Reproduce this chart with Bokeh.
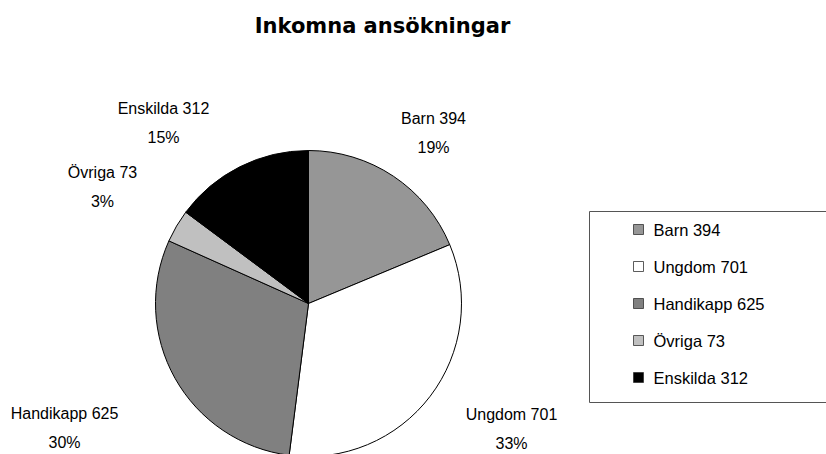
import numpy as np
from bokeh.plotting import figure
from bokeh.models import Range1d, ColumnDataSource
from bokeh.core.properties import value
from bokeh.embed import file_html
from bokeh.resources import INLINE

title = "Inkomna ansökningar"
categories = ["Barn", "Ungdom", "Handikapp", "Övriga", "Enskilda"]
counts = [394, 701, 625, 73, 312]
colors = ["#969696", "#ffffff", "#808080", "#c0c0c0", "#000000"]

W, H = 826, 454


def py(y):
    """convert page pixel y (down) to data y (up)"""
    return H - y


p = figure(width=W, height=H, output_backend="svg", toolbar_location=None,
           x_range=Range1d(0, W), y_range=Range1d(0, H),
           min_border=0, outline_line_color=None)
p.axis.visible = False
p.grid.visible = False
p.background_fill_color = "white"
p.border_fill_color = "white"

total = sum(counts)
frac = np.array(counts) / total
cum = np.concatenate([[0], np.cumsum(frac)])
start = np.pi / 2 - cum[:-1] * 2 * np.pi
end = np.pi / 2 - cum[1:] * 2 * np.pi

cx, cy, r = 308, py(303), 153
src = ColumnDataSource(dict(start=start, end=end, color=colors))
p.wedge(x=cx, y=cy, radius=r, start_angle="start", end_angle="end",
        direction="clock", fill_color="color", line_color="black",
        line_width=1, source=src)

# pie labels
label_pos = [(433, 118), (511, 414), (64, 413), (102, 172), (163, 108)]
names = [f"{c} {v}" for c, v in zip(categories, counts)]
pcts = [f"{round(f * 100):.0f}%" for f in frac]
lx = [a for a, b in label_pos]
p.text(x=lx, y=[py(b) for a, b in label_pos], text=names,
       text_font=value("Liberation Sans"), text_font_size="16px",
       text_align="center", text_baseline="middle", text_color="black")
p.text(x=lx, y=[py(b + 29) for a, b in label_pos], text=pcts,
       text_font=value("Liberation Sans"), text_font_size="16px",
       text_align="center", text_baseline="middle", text_color="black")

# title
p.text(x=[382], y=[py(25)], text=[title], text_font=value("DejaVu Sans"),
       text_font_size="21px", text_font_style="bold",
       text_align="center", text_baseline="middle", text_color="black")

# legend box
p.quad(left=[589], right=[840], bottom=[py(402)], top=[py(211)],
       fill_color="white", line_color="#555555", line_width=1)
ly = [229 + 37 * i for i in range(len(categories))]
p.scatter(x=[638] * len(categories), y=[py(v) for v in ly], marker="square",
          size=10, fill_color=colors, line_color="#333333", line_width=0.8)
p.text(x=[653] * len(categories), y=[py(v) for v in ly], text=names,
       text_font=value("Liberation Sans"), text_font_size="16.5px",
       text_align="left", text_baseline="middle", text_color="black")

open("out.html", "w").write(file_html(p, INLINE))
